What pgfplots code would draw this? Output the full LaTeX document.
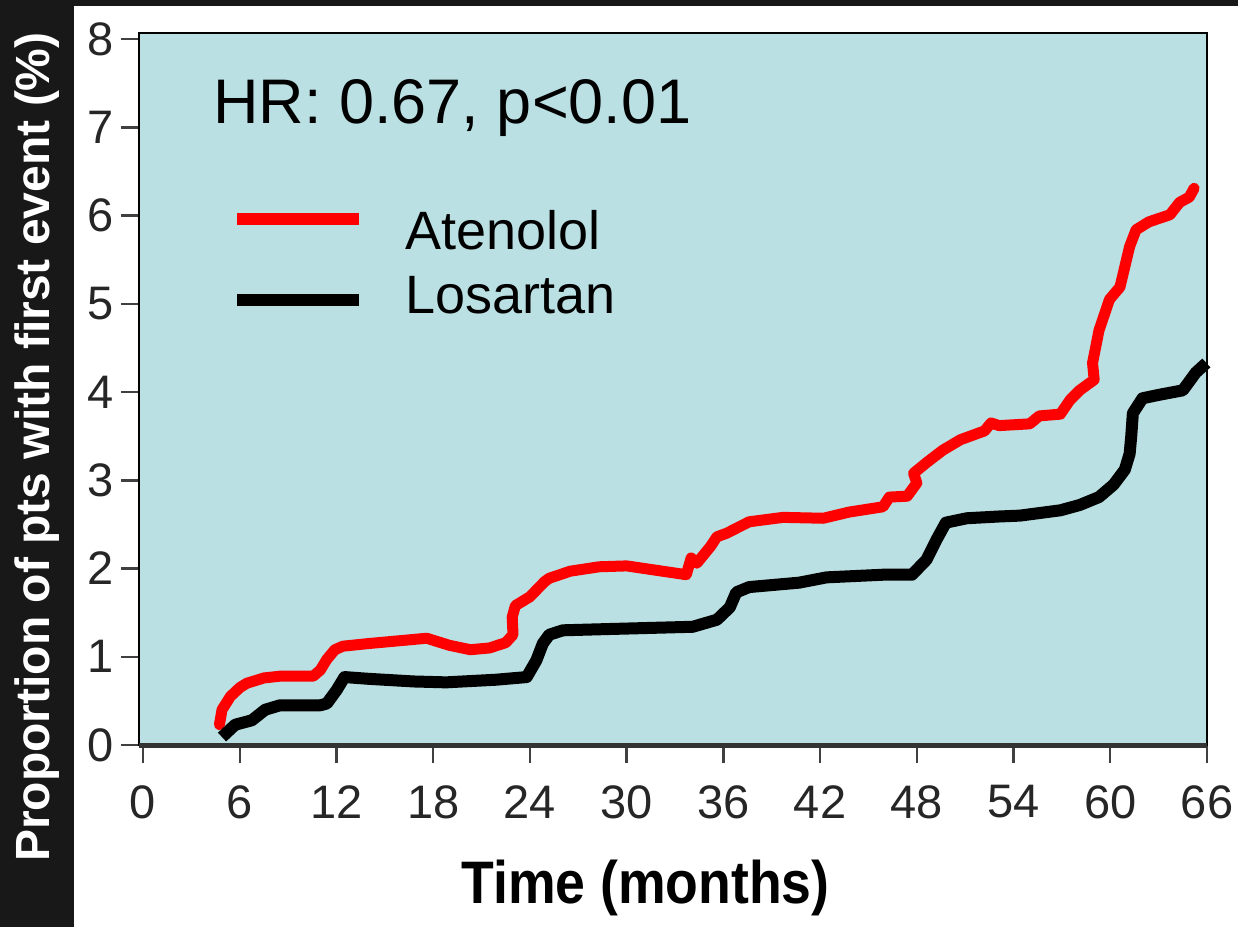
\documentclass[border=0pt]{standalone}
\usepackage{pgfplots}
\pgfplotsset{compat=1.18}
\usepackage{fontspec}
\setmainfont{Liberation Sans}
\definecolor{panelbg}{RGB}{186,224,227}
\definecolor{stripbg}{RGB}{24,24,24}
\definecolor{atenred}{RGB}{255,0,0}

\begin{document}
\begin{tikzpicture}
% page: 1px = 0.5pt
\path[use as bounding box] (0,0) rectangle (619pt,463.5pt);
\fill[white] (0,0) rectangle (619pt,463.5pt);
\fill[stripbg] (0,0) rectangle (37pt,463.5pt);
\fill[stripbg] (0,460.5pt) rectangle (619pt,463.5pt);
\begin{axis}[
  at={(69.5pt,91pt)}, anchor=south west,
  scale only axis, width=534pt, height=356pt,
  xmin=-0.25, xmax=66, ymin=0, ymax=8.07,
  xtick={0,6,...,66}, ytick={0,1,...,8},
  xtick pos=bottom, ytick pos=left,
  tick align=outside, major tick length=9pt,
  tick style={black!75, line width=1.2pt},
  axis line style={black, line width=1pt},
  axis background/.style={fill=panelbg},
  clip=false,
  /pgf/number format/assume math mode=true,
  ticklabel style={font=\fontsize{23.5}{26}\selectfont, text=black!85},
  yticklabel style={inner sep=3.5pt},
  xticklabel style={inner sep=1pt, yshift=-10pt},
  xlabel={\scalebox{1}[1.12]{Time (months)}},
  xlabel style={at={(axis description cs:0.4742,-0.2015)}, anchor=center,
                font=\bfseries\fontsize{26.8}{30}\selectfont},
  ylabel={Proportion of pts with first event (\%)},
  ylabel style={at={(axis description cs:-0.0956,0.4185)}, anchor=center,
                font=\bfseries\fontsize{24}{28}\selectfont, text=white},
  legend cell align=left,
  legend style={at={(axis description cs:0.0918,0.6763)}, anchor=west,
                draw=none, fill=none, inner sep=0pt, row sep=12pt, column sep=23pt,
                nodes={inner sep=0pt, font=\fontsize{27}{30}\selectfont}},
]

% Atenolol
\addplot[atenred, line width=5.5pt, line join=round, line cap=round,
  legend image code/.code={
    \draw[overlay, line width=6pt, line cap=butt] (0pt,6pt) -- (61pt,6pt);
    \path[draw=none, fill=none] (0pt,0pt) -- (61pt,0pt);}] coordinates {
  (4.74,0.23) (4.9,0.40) (5.42,0.55) (6.0,0.65) (6.44,0.70) (7.5,0.76)
  (8.5,0.78) (10.56,0.78) (11.0,0.85) (11.4,0.97) (11.9,1.08) (12.4,1.12)
  (14,1.15) (17.6,1.21) (19,1.13) (20.3,1.08) (21.5,1.10) (22.5,1.16)
  (22.95,1.25) (22.9,1.45) (23.1,1.58) (24.0,1.68) (24.9,1.85) (25.2,1.89)
  (26.5,1.97) (28.3,2.02) (30,2.03) (33.7,1.93) (34.0,2.12) (34.35,2.06)
  (35.2,2.25) (35.6,2.36) (36.2,2.40) (37.6,2.53) (39.7,2.58) (42.2,2.57)
  (43.8,2.64) (45.9,2.70) (46.3,2.81) (47.4,2.82) (48.0,2.97) (47.8,3.08)
  (48.6,3.20) (49.6,3.34) (50.7,3.46) (52.2,3.56) (52.6,3.65) (53.1,3.62)
  (55.0,3.64) (55.6,3.73) (56.9,3.75) (57.5,3.91) (58.1,4.02) (59.0,4.14)
  (58.9,4.33) (59.3,4.70) (59.95,5.05) (60.6,5.19) (61.2,5.65) (61.6,5.84)
  (62.4,5.93) (63.7,6.01) (64.3,6.15) (64.9,6.21) (65.2,6.31)
};
\addlegendentry{Atenolol}

% Losartan
\addplot[black, line width=6pt, line join=round,
  legend image code/.code={
    \draw[overlay, line width=6pt, line cap=butt] (0pt,-1.5pt) -- (61pt,-1.5pt);
    \path[draw=none, fill=none] (0pt,0pt) -- (61pt,0pt);}] coordinates {
  (4.9,0.09) (5.72,0.23) (6.75,0.28) (7.58,0.40) (8.5,0.45) (11.0,0.45)
  (11.4,0.47) (12.0,0.62) (12.5,0.77) (14,0.75) (16.8,0.72) (18.8,0.71)
  (21.9,0.74) (23.8,0.77) (24.4,0.96) (24.8,1.15) (25.2,1.25) (26.05,1.30)
  (28,1.31) (34.1,1.34) (35.6,1.42) (36.4,1.56) (36.8,1.73) (37.6,1.79)
  (40.7,1.84) (42.4,1.90) (45.9,1.93) (47.7,1.93) (48.6,2.10) (49.2,2.32)
  (49.8,2.52) (51.1,2.57) (53.1,2.59) (54.4,2.60) (56.9,2.66) (58.1,2.72)
  (59.3,2.81) (60.2,2.95) (60.9,3.12) (61.2,3.30) (61.3,3.50) (61.4,3.76)
  (62.0,3.93) (63.05,3.97) (64.5,4.02) (65.3,4.22) (65.96,4.33)
};
\addlegendentry{Losartan}

\draw[line width=2.5pt, black!80] (rel axis cs:0,0) -- (rel axis cs:1,0);
\node[anchor=base west, inner sep=0pt, font=\fontsize{31.5}{36}\selectfont]
  at (axis description cs:0.0693,0.8736) {HR: 0.67, p<0.01};
\end{axis}
\end{tikzpicture}
\end{document}
